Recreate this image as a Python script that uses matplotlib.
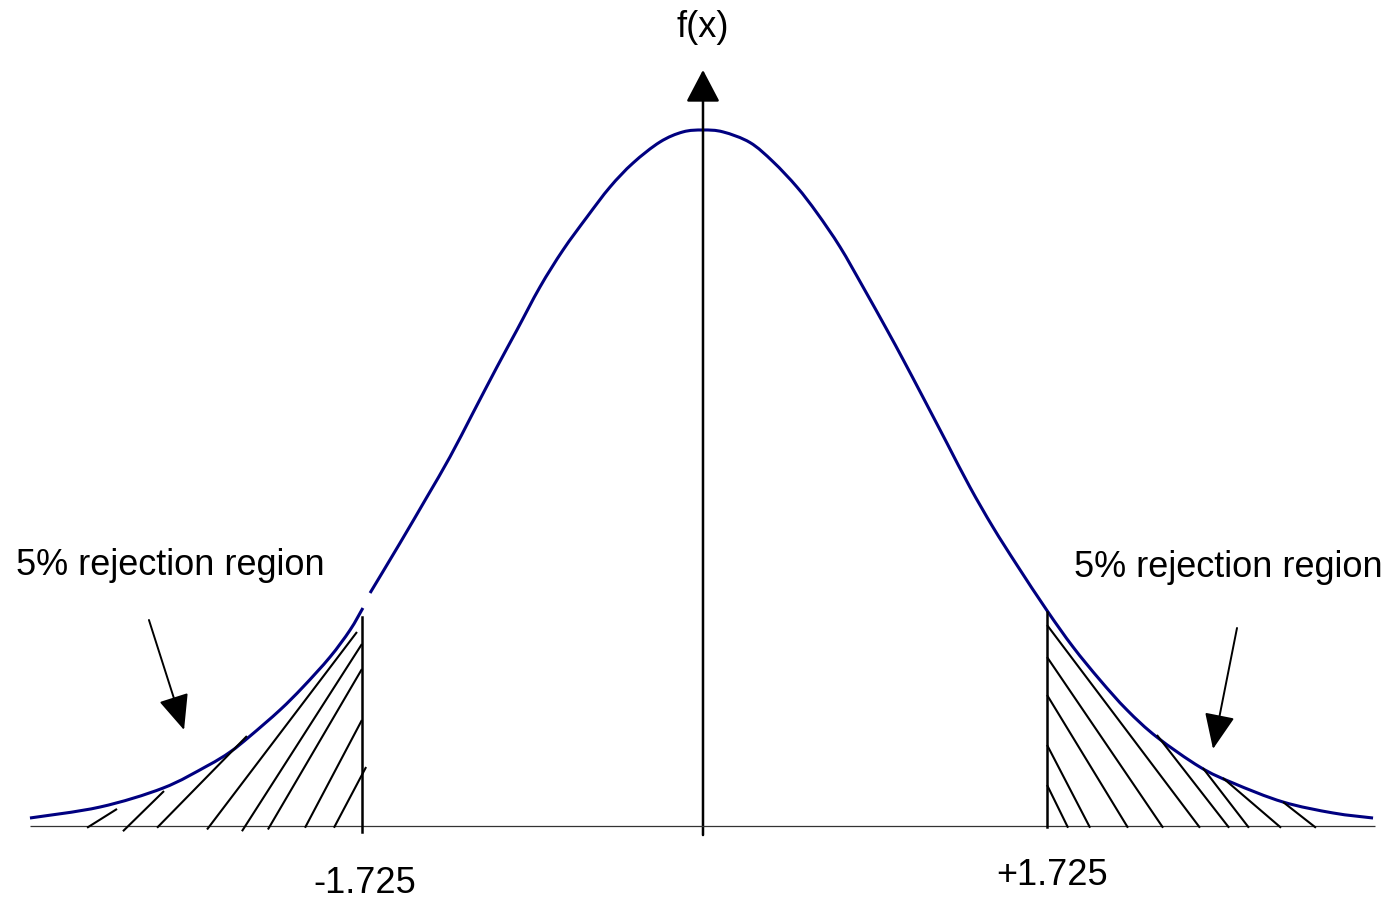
import matplotlib
matplotlib.use("Agg")
import matplotlib.pyplot as plt
import numpy as np
from matplotlib.patches import FancyArrowPatch, PathPatch
from matplotlib.path import Path

plt.rcParams['font.family'] = ['Liberation Sans', 'DejaVu Sans']

# ---- Data (t value, density) ----
curve_left_t = [-3.394, -3.041, -2.723, -2.501, -2.385, -2.284, -2.133,
                -2.017, -1.881, -1.780, -1.715]
curve_left_f = [0.0046, 0.0109, 0.0218, 0.0345, 0.0425, 0.0517, 0.0667,
                0.0799, 0.0971, 0.1126, 0.1253]

curve_main_t = [-1.679, -1.528, -1.392, -1.276, -1.160, -1.039, -0.938, -0.822,
                -0.706, -0.585, -0.469, -0.353, -0.217, -0.101, 0.0,
                0.101, 0.237, 0.353, 0.474, 0.575, 0.691, 0.807, 0.928,
                1.009, 1.109, 1.230, 1.346, 1.462, 1.583, 1.735, 1.866,
                2.002, 2.138, 2.289, 2.506, 2.673, 2.925, 3.177, 3.379]
curve_main_f = [0.1339, 0.1626, 0.1891, 0.2121, 0.2374, 0.2638, 0.2851, 0.3098,
                0.3310, 0.3500, 0.3672, 0.3810, 0.3931, 0.3989, 0.4000,
                0.3989, 0.3928, 0.3818, 0.3672, 0.3523, 0.3328, 0.3098, 0.2851,
                0.2681, 0.2465, 0.2201, 0.1948, 0.1718, 0.1500, 0.1238, 0.1029,
                0.0839, 0.0667, 0.0511, 0.0339, 0.0247, 0.0138, 0.0075, 0.0046]

crit_left = -1.720
crit_right = 1.735
crit_left_top = 0.1201
crit_right_top = 0.1230

# hatch segments: (t0, f0, t1, f1)
hatch_left = [(-3.106, -0.001, -2.955, 0.0098),
              (-2.925, -0.003, -2.718, 0.0201),
              (-2.753, -0.001, -2.300, 0.0517),
              (-2.501, -0.002, -1.745, 0.1115),
              (-2.325, -0.003, -1.720, 0.1046),
              (-2.194, -0.002, -1.720, 0.0902),
              (-2.007, -0.001, -1.720, 0.0609),
              (-1.861, -0.001, -1.699, 0.0339)]
hatch_right = [(1.735, 0.0236, 1.841, -0.001),
               (1.735, 0.0466, 1.952, -0.001),
               (1.735, 0.0753, 2.143, -0.001),
               (1.735, 0.0971, 2.320, -0.001),
               (1.735, 0.1155, 2.506, -0.001),
               (2.289, 0.0523, 2.653, -0.001),
               (2.521, 0.0333, 2.753, -0.001),
               (2.622, 0.0276, 2.915, -0.001),
               (2.925, 0.0138, 3.091, -0.001)]

label_left = "-1.725"
label_right = "+1.725"
region_text = "5% rejection region"
axis_label = "f(x)"


def smooth_path(xs, ys):
    """Cubic Bezier path passing through the given points (Catmull-Rom style)."""
    p = np.column_stack([xs, ys])
    n = len(p)
    verts = [p[0]]
    codes = [Path.MOVETO]
    for i in range(n - 1):
        p0 = p[i - 1] if i > 0 else p[i]
        p1 = p[i]
        p2 = p[i + 1]
        p3 = p[i + 2] if i + 2 < n else p[i + 1]
        c1 = p1 + (p2 - p0) / 6.0
        c2 = p2 - (p3 - p1) / 6.0
        verts += [c1, c2, p2]
        codes += [Path.CURVE4] * 3
    return Path(verts, codes)


# ---- Figure ----
fig = plt.figure(figsize=(13.9, 8.99), dpi=100)
ax = fig.add_axes([0, 0, 1, 1])
ax.set_xlim(-3.5451, 3.4645)
ax.set_ylim(-0.04195, 0.47471)
ax.axis('off')

navy = '#000080'
# baseline
ax.plot([-3.394, 3.389], [0, 0], color='#333333', lw=0.9, solid_capstyle='butt')

# hatching
for t0, f0, t1, f1 in hatch_left + hatch_right:
    ax.plot([t0, t1], [f0, f1], color='black', lw=1.5, solid_capstyle='butt')

# critical lines
ax.plot([crit_left, crit_left], [-0.0034, crit_left_top], color='black', lw=1.8)
ax.plot([crit_right, crit_right], [-0.0006, crit_right_top], color='black', lw=1.8)

# curve (smooth through the read points)
for xs, ys in ((curve_left_t, curve_left_f), (curve_main_t, curve_main_f)):
    ax.add_patch(PathPatch(smooth_path(xs, ys), facecolor='none',
                           edgecolor=navy, lw=2.2, capstyle='butt'))

# central axis with arrow
ax.add_patch(FancyArrowPatch((0, -0.0052), (0, 0.4345),
                             arrowstyle='-|>,head_length=2.0,head_width=1.05',
                             mutation_scale=10, color='black', lw=1.8,
                             shrinkA=0, shrinkB=0))

# pointer arrows
ax.add_patch(FancyArrowPatch((-2.794, 0.1184), (-2.617, 0.0552),
                             arrowstyle='-|>,head_length=2.2,head_width=0.95',
                             mutation_scale=10, color='black', lw=1.4,
                             shrinkA=0, shrinkB=0))
ax.add_patch(FancyArrowPatch((2.693, 0.1138), (2.572, 0.0443),
                             arrowstyle='-|>,head_length=2.2,head_width=0.95',
                             mutation_scale=10, color='black', lw=1.4,
                             shrinkA=0, shrinkB=0))

fs = 26
ax.text(-3.464, 0.1443, region_text, fontsize=fs, ha='left', va='baseline')
ax.text(1.871, 0.1431, region_text, fontsize=fs, ha='left', va='baseline')
ax.text(-1.705, -0.0385, label_left, fontsize=fs, ha='center', va='baseline')
ax.text(1.760, -0.0339, label_right, fontsize=fs, ha='center', va='baseline')
ax.text(0.0, 0.4534, axis_label, fontsize=fs, ha='center', va='baseline')

fig.savefig('out.png', dpi=100, facecolor='white')
